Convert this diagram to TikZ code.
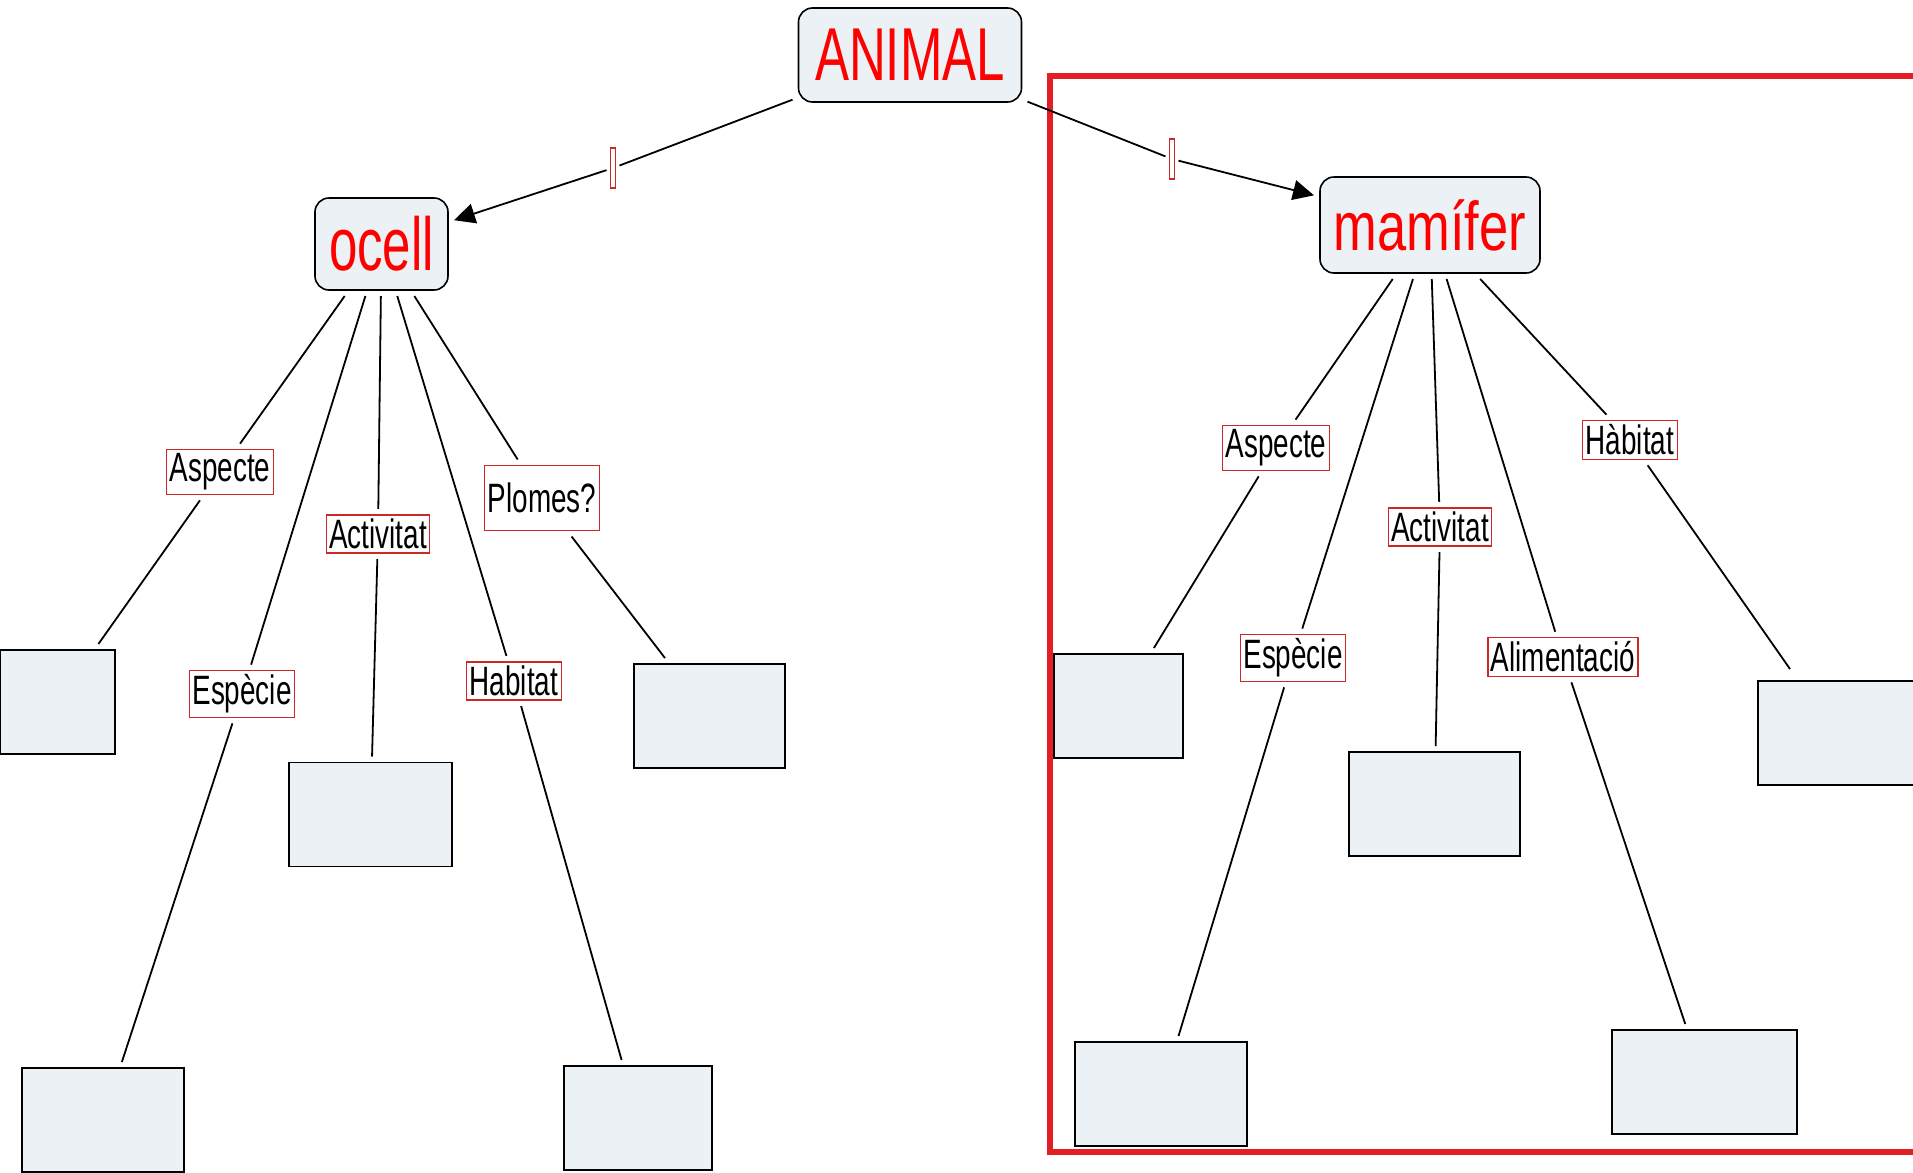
\documentclass[tikz,border=0pt]{standalone}
\usepackage{fontspec}
\newfontfamily\mapfont[FakeStretch=0.68]{Liberation Sans}
\newfontfamily\mapfontwide[FakeStretch=0.76]{Liberation Sans}
\usetikzlibrary{arrows.meta}
\definecolor{conceptfill}{RGB}{235,241,244}
\definecolor{framered}{RGB}{228,30,38}
\definecolor{labelred}{RGB}{204,40,40}
\newcommand{\leaf}[4]{\node[leafbox, minimum width=#4] (#1) at (#2,#3) {};}

\begin{document}
\begin{tikzpicture}[x=0.5pt, y=-0.5pt,
    concept/.style={draw, line width=0.8pt, rounded corners=7pt, fill=conceptfill,
        text=red, inner sep=0pt, outer sep=3pt},
    leafbox/.style={draw, line width=0.8pt, fill=conceptfill, minimum height=52pt,
        inner sep=0pt, outer sep=3pt},
    phrase/.style={draw=labelred, line width=0.6pt, fill=white, text=black,
        font=\mapfont\fontsize{20.5}{22}\selectfont, inner xsep=1.5pt, inner ysep=2pt,
        outer sep=3pt},
    linkmark/.style={draw=labelred, line width=0.6pt, fill=white, minimum width=2.5pt,
        minimum height=20pt, inner sep=0pt, outer sep=2pt},
    link/.style={line width=0.9pt},
    arrowlink/.style={line width=0.9pt, -{Triangle[length=10.5pt, width=10pt]}}]
    \useasboundingbox (0,0) rectangle (1913,1173);
    % frame round the mammal part
    \draw[framered, line width=3pt] (1050,76) rectangle (1918,1152);
    % concepts
    \node[concept, minimum width=111.5pt, minimum height=47pt,
        font=\mapfont\fontsize{37.5}{40}\selectfont] (animal) at (910,55) {ANIMAL};
    \node[concept, minimum width=66.5pt, minimum height=46pt,
        font=\mapfont\fontsize{37.5}{40}\selectfont] (ocell) at (381.5,244) {ocell};
    \node[concept, minimum width=110pt, minimum height=48pt,
        font=\mapfontwide\fontsize{34.5}{37}\selectfont] (mamifer) at (1430,225) {mamífer};
    % empty linking phrases
    \node[linkmark] (m1) at (613,168) {};
    \node[linkmark] (m2) at (1172,159) {};
    \draw[link] (animal) -- (m1);
    \draw[arrowlink] (m1) -- (ocell);
    \draw[link] (animal) -- (m2);
    \draw[arrowlink] (m2) -- (mamifer);
    % ocell
    \node[phrase] (oasp) at (220,472) {Aspecte};
    \node[phrase] (oesp) at (242,694) {Espècie};
    \node[phrase] (oact) at (378,534) {Activitat};
    \node[phrase] (ohab) at (514,681) {Habitat};
    \node[phrase, minimum height=32.5pt] (oplo) at (542,498) {Plomes?};
    \leaf{ob1}{57.5}{702}{57.5pt}
    \leaf{ob2}{103}{1120}{81pt}
    \leaf{ob3}{370.5}{814.5}{81.5pt}
    \leaf{ob4}{638}{1118}{74pt}
    \leaf{ob5}{709.5}{716}{75.5pt}
    \draw[link] (ocell) -- (oasp) -- (ob1);
    \draw[link] (ocell) -- (oesp) -- (ob2);
    \draw[link] (ocell) -- (oact) -- (ob3);
    \draw[link] (ocell) -- (ohab) -- (ob4);
    \draw[link] (ocell) -- (oplo) -- (ob5);
    % mamifer
    \node[phrase] (masp) at (1276,448) {Aspecte};
    \node[phrase] (mesp) at (1293,658) {Espècie};
    \node[phrase] (mact) at (1440,527) {Activitat};
    \node[phrase] (mali) at (1563,657) {Alimentació};
    \node[phrase] (mhab) at (1630,440) {Hàbitat};
    \leaf{mb1}{1118.5}{706}{64.5pt}
    \leaf{mb2}{1161}{1094}{86pt}
    \leaf{mb3}{1434.5}{804}{85.5pt}
    \leaf{mb4}{1704.5}{1082}{92.5pt}
    \leaf{mb5}{1874}{733}{116pt}
    \draw[link] (mamifer) -- (masp) -- (mb1);
    \draw[link] (mamifer) -- (mesp) -- (mb2);
    \draw[link] (mamifer) -- (mact) -- (mb3);
    \draw[link] (mamifer) -- (mali) -- (mb4);
    \draw[link] (mamifer) -- (mhab) -- ([xshift=19pt,yshift=3pt]mb5.north west);
\end{tikzpicture}
\end{document}
